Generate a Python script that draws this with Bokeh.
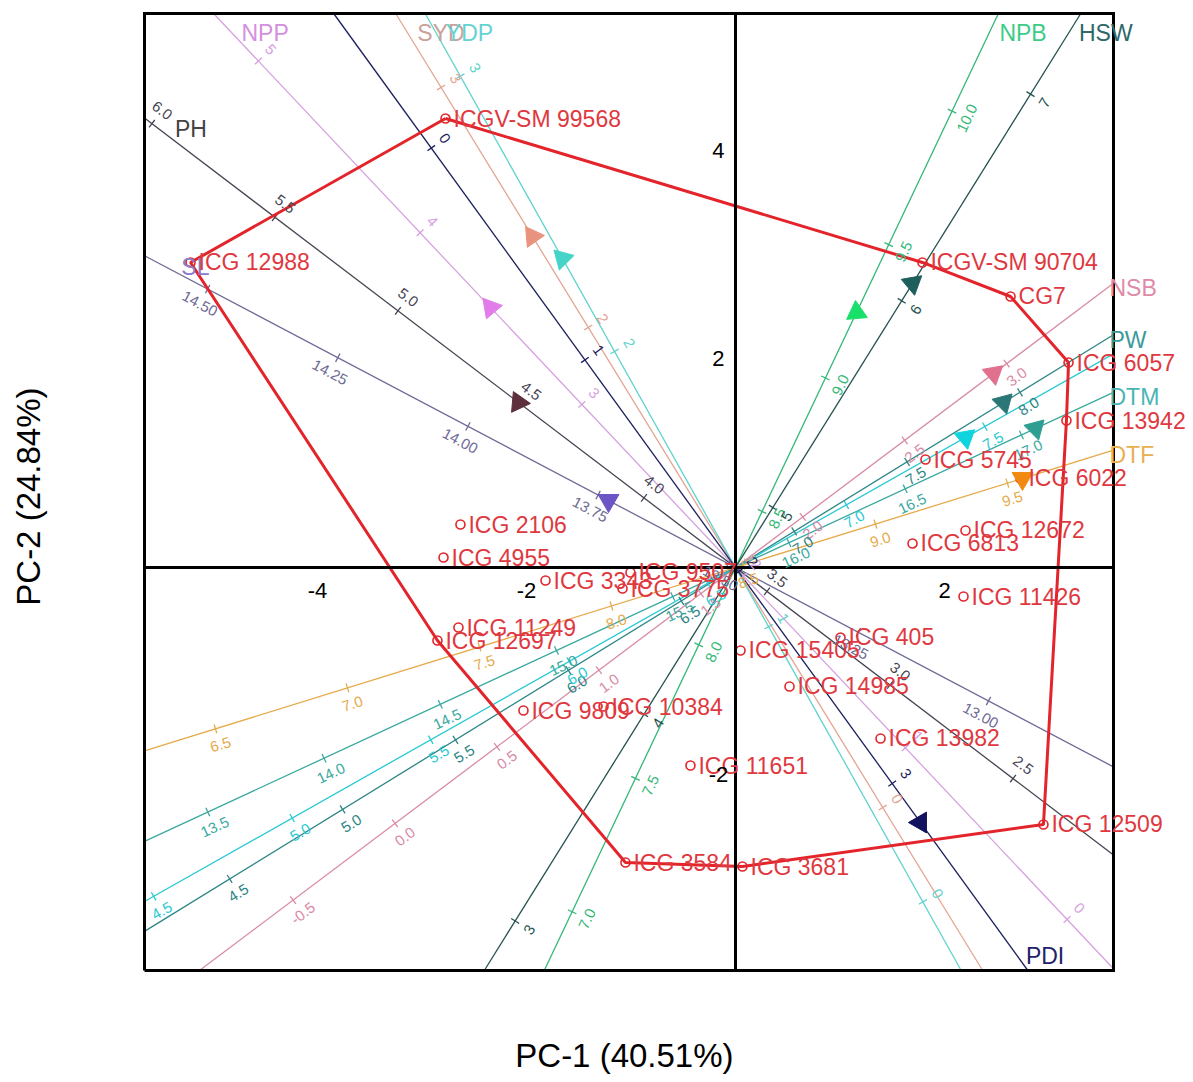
import numpy as np
from bokeh.plotting import figure
from bokeh.models import ColumnDataSource, LabelSet, Label
from bokeh.core.properties import value
from bokeh.embed import file_html
from bokeh.resources import INLINE

# ---------------- data ----------------
pc1_title = "PC-1  (40.51%)"
pc2_title = "PC-2  (24.84%)"
x_axis_ticks = [-4, -2, 2]
y_axis_ticks = [4, 2, -2]

geno_names = ["ICGV-SM 99568", "ICG 12988", "ICGV-SM 90704", "CG7", "ICG 6057",
              "ICG 13942", "ICG 5745", "ICG 6022", "ICG 12672", "ICG 6813",
              "ICG 11426", "ICG 2106", "ICG 4955", "ICG 3343", "ICG 9507",
              "ICG 3775", "ICG 11249", "ICG 12697", "ICG 9809", "ICG 10384",
              "ICG 15405", "ICG 405", "ICG 14985", "ICG 13982", "ICG 11651",
              "ICG 12509", "ICG 3584", "ICG 3681"]
geno_pc1 = [-2.775, -5.215, 1.789, 2.632, 3.187,
            3.167, 1.818, 2.727, 2.201, 1.694,
            2.182, -2.632, -2.794, -1.818, -1.005,
            -1.081, -2.651, -2.852, -2.029, -1.263,
            0.048, 1.005, 0.517, 1.388, -0.431,
            2.947, -1.053, 0.067]
geno_pc2 = [4.317, 2.933, 2.933, 2.606, 1.971,
            1.413, 1.038, 0.856, 0.356, 0.231,
            -0.279, 0.413, 0.096, -0.125, -0.048,
            -0.202, -0.577, -0.702, -1.375, -1.337,
            -0.798, -0.673, -1.144, -1.644, -1.904,
            -2.471, -2.837, -2.875]
hull_names = ["ICGV-SM 99568", "ICGV-SM 90704", "CG7", "ICG 6057", "ICG 13942",
              "ICG 12509", "ICG 3681", "ICG 3584", "ICG 12697", "ICG 12988",
              "ICGV-SM 99568"]

var_names = ["NPP", "SYD", "YDP", "PDI", "PH", "SL", "NPB", "HSW", "NSB", "PW", "", "DTM", "DTF"]
var_pc1 = [-2.344, -1.943, -1.656, 1.770, -2.077, -1.215, 1.158, 1.694, 2.469, 2.565, 2.201, 2.871, 2.746]
var_pc2 = [2.500, 3.183, 2.971, -2.452, 1.587, 0.644, 2.452, 2.731, 1.865, 1.587, 1.250, 1.337, 0.856]
var_mean = [2.05, 1.0, 1.215, 1.98, 3.628, 13.486, 8.29, 4.71, 1.67, 6.74, 6.6, 15.77, 8.47]
var_len_per_unit = [2.263, 2.704, 3.030, 2.512, 2.963, 5.638, 2.838, 2.339, 2.445, 2.541, 3.049, 2.454, 2.646]
var_ticks = [
    [0, 1, 2, 3, 4, 5],
    [0, 1, 2, 3],
    [0, 1, 2, 3],
    [0, 1, 2, 3],
    [2.5, 3.0, 3.5, 4.0, 4.5, 5.0, 5.5, 6.0],
    [13.0, 13.25, 13.5, 13.75, 14.0, 14.25, 14.5],
    [7.0, 7.5, 8.0, 8.5, 9.0, 9.5, 10.0],
    [3, 4, 5, 6, 7],
    [-0.5, 0.0, 0.5, 1.0, 1.5, 2.0, 2.5, 3.0],
    [4.5, 5.0, 5.5, 6.0, 6.5, 7.0, 7.5, 8.0],
    [4.5, 5.0, 5.5, 6.0, 6.5, 7.0, 7.5],
    [13.5, 14.0, 14.5, 15.0, 15.5, 16.0, 16.5, 17.0],
    [6.5, 7.0, 7.5, 8.0, 8.5, 9.0, 9.5],
]
var_decimals = [0, 0, 0, 0, 1, 2, 1, 0, 1, 1, 1, 1, 1]

# ---------------- styles ----------------
line_colors = ["#d7a1e0", "#e3a593", "#5fd3cc", "#1c1f5e", "#454552", "#6e6a96", "#34b878",
               "#25524f", "#d98aa6", "#2c8585", "#28c9d3", "#3aa9a0", "#e5aa4a"]
name_colors = ["#d48fe0", "#c9a29a", "#66d2d2", "#22226a", "#444444", "#8a7cc8", "#3ccc88",
               "#2e6868", "#e08aa8", "#3a9a9a", "#28c9d3", "#4ab4b4", "#e8b050"]
tri_colors = ["#e27ce9", "#e8937d", "#46d4c9", "#12125e", "#5e2f3d", "#6d55c6", "#19e06a",
              "#1e5e5c", "#e0708e", "#2b7676", "#0fd4de", "#2e9e92", "#f28a12"]
tri_tip_deg = [250, 5, 15, 180, 235, 270, 95, 280, 280, 285, 280, 285, 270]
tick_side = [1, 1, 1, -1, 1, -1, 1, 1, 1, 1, 1, 1, 1]

RED = "#e3242b"
GENO_TXT = "#e0383f"
FONT_NAME = "Liberation Sans"
FONT = value(FONT_NAME)

# pixel geometry: figure covers the whole page, frame = figure
W, H = 1190, 1080
OX, OY = 735.0, 567.0        # pixel position of the origin
PXX, PXY = 104.5, 104.0      # pixels per unit
XMIN, XMAX = (144 - OX) / PXX, (1113 - OX) / PXX   # plotting box
YMIN, YMAX = (OY - 970) / PXY, (OY - 13) / PXY

p = figure(width=W, height=H, x_range=(-OX / PXX, (W - OX) / PXX),
           y_range=((OY - H) / PXY, OY / PXY),
           output_backend="svg", toolbar_location=None, tools="")
p.min_border_left = 0
p.min_border_right = 0
p.min_border_top = 0
p.min_border_bottom = 0
p.axis.visible = False
p.grid.visible = False
p.outline_line_color = None
p.background_fill_color = "white"
p.border_fill_color = "white"

# ---------------- variable axes ----------------
seg_x0, seg_y0, seg_x1, seg_y1, seg_c = [], [], [], [], []
tk_x0, tk_y0, tk_x1, tk_y1, tk_c = [], [], [], [], []
tl_x, tl_y, tl_t, tl_a, tl_c = [], [], [], [], []
nm_x, nm_y, nm_t, nm_c = [], [], [], []
tri_xs, tri_ys = [], []


def border_hit(dx, dy):
    tx = XMAX / dx if dx > 0 else (XMIN / dx if dx < 0 else np.inf)
    ty = YMAX / dy if dy > 0 else (YMIN / dy if dy < 0 else np.inf)
    if tx < ty:
        return tx, ("right" if dx > 0 else "left")
    return ty, ("top" if dy > 0 else "bottom")


for i in range(len(var_names)):
    vx, vy = var_pc1[i], var_pc2[i]
    L = np.hypot(vx, vy)
    dx, dy = vx / L, vy / L
    t_pos, side_pos = border_hit(dx, dy)
    t_neg, _ = border_hit(-dx, -dy)
    seg_x0.append(-dx * t_neg); seg_y0.append(-dy * t_neg)
    seg_x1.append(dx * t_pos); seg_y1.append(dy * t_pos)
    seg_c.append(line_colors[i])
    nx, ny = dy, -dx
    ang = np.arctan2(dy, dx)
    if ang > np.pi / 2:
        ang -= np.pi
    elif ang <= -np.pi / 2:
        ang += np.pi
    for v in var_ticks[i]:
        s = (v - var_mean[i]) * var_len_per_unit[i]
        px, py = dx * s, dy * s
        if not (XMIN + 0.05 < px < XMAX - 0.05 and YMIN + 0.05 < py < YMAX - 0.05):
            continue
        h = 0.045
        tk_x0.append(px - nx * h); tk_y0.append(py - ny * h)
        tk_x1.append(px + nx * h); tk_y1.append(py + ny * h)
        tk_c.append(line_colors[i])
        off = 0.16 * tick_side[i]
        tl_x.append(px + nx * off); tl_y.append(py + ny * off)
        tl_t.append(f"{v:.{var_decimals[i]}f}")
        tl_a.append(float(ang))
        tl_c.append(line_colors[i])
    ex, ey = dx * t_pos, dy * t_pos
    if side_pos == "top":
        yl = YMAX - 19 / PXY
        xl = dx / dy * yl + 10 / PXX
    elif side_pos == "bottom":
        yl = YMIN + 15 / PXY
        xl = dx / dy * yl + 9 / PXX
    elif side_pos == "left":
        yl = ey - 11 / PXY
        xl = dx / dy * yl + 16 / PXX
    else:
        xl = XMAX - 4 / PXX
        yl = ey - 5 / PXY
    nm_x.append(float(xl)); nm_y.append(float(yl)); nm_t.append(var_names[i]); nm_c.append(name_colors[i])
    # triangle marker as a patch (circumradius 12 px)
    R = 12.0
    th = np.radians(tri_tip_deg[i])
    tri_xs.append([vx + R * np.cos(th + k * 2 * np.pi / 3) / PXX for k in range(3)])
    tri_ys.append([vy + R * np.sin(th + k * 2 * np.pi / 3) / PXY for k in range(3)])

p.segment(x0=seg_x0, y0=seg_y0, x1=seg_x1, y1=seg_y1, line_color=seg_c, line_width=1.3)
p.segment(x0=tk_x0, y0=tk_y0, x1=tk_x1, y1=tk_y1, line_color=tk_c, line_width=1.3)

# ---------------- genotype hull + points ----------------
idx = {n: k for k, n in enumerate(geno_names)}
hx = [geno_pc1[idx[n]] for n in hull_names]
hy = [geno_pc2[idx[n]] for n in hull_names]
p.line(hx, hy, line_color=RED, line_width=3)

p.scatter(geno_pc1, geno_pc2, marker="circle", size=9, fill_color="white", fill_alpha=0.0,
          line_color=RED, line_width=1.6)

p.patches(tri_xs, tri_ys, fill_color=tri_colors, line_color=tri_colors, line_width=1)

# main axes through origin and the plotting box
p.segment(x0=[0, XMIN], y0=[YMIN, 0], x1=[0, XMAX], y1=[YMAX, 0], line_color="black", line_width=3)
p.line([XMIN, XMAX, XMAX, XMIN, XMIN], [YMIN, YMIN, YMAX, YMAX, YMIN],
       line_color="black", line_width=3, line_join="miter")

# ---------------- texts ----------------
tl_src = ColumnDataSource(dict(x=tl_x, y=tl_y, t=tl_t, a=tl_a, c=tl_c))
p.add_layout(LabelSet(x="x", y="y", text="t", angle="a", source=tl_src, text_color="c",
                      text_font=FONT, text_font_size="15px", text_align="center",
                      text_baseline="middle"))

nm_src = ColumnDataSource(dict(x=nm_x, y=nm_y, t=nm_t, c=nm_c))
p.add_layout(LabelSet(x="x", y="y", text="t", source=nm_src, text_color="c",
                      text_font=FONT, text_font_size="23px", text_align="left",
                      text_baseline="middle"))

g_src = ColumnDataSource(dict(x=[x + 8 / PXX for x in geno_pc1], y=geno_pc2, t=geno_names))
p.add_layout(LabelSet(x="x", y="y", text="t", source=g_src, text_color=GENO_TXT,
                      text_font=FONT, text_font_size="23px", text_align="left",
                      text_baseline="middle"))

ax_src = ColumnDataSource(dict(
    x=list(map(float, x_axis_ticks)) + [-0.163] * len(y_axis_ticks),
    y=[-0.221] * len(x_axis_ticks) + [float(v) + 0.01 for v in y_axis_ticks],
    t=[str(v) for v in x_axis_ticks] + [str(v) for v in y_axis_ticks]))
p.add_layout(LabelSet(x="x", y="y", text="t", source=ax_src, text_color="black",
                      text_font=FONT, text_font_size="22px", text_align="center",
                      text_baseline="middle"))

p.add_layout(Label(x=(XMIN + XMAX) / 2, y=(OY - 1055) / PXY, text=pc1_title,
                   text_font=FONT_NAME, text_font_size="33px", text_align="center",
                   text_baseline="middle", text_color="black"))
p.add_layout(Label(x=(28 - OX) / PXX, y=(YMIN + YMAX) / 2, text=pc2_title, angle=np.pi / 2,
                   text_font=FONT_NAME, text_font_size="33px", text_align="center",
                   text_baseline="middle", text_color="black"))

open("out.html", "w").write(file_html(p, INLINE, "biplot"))
